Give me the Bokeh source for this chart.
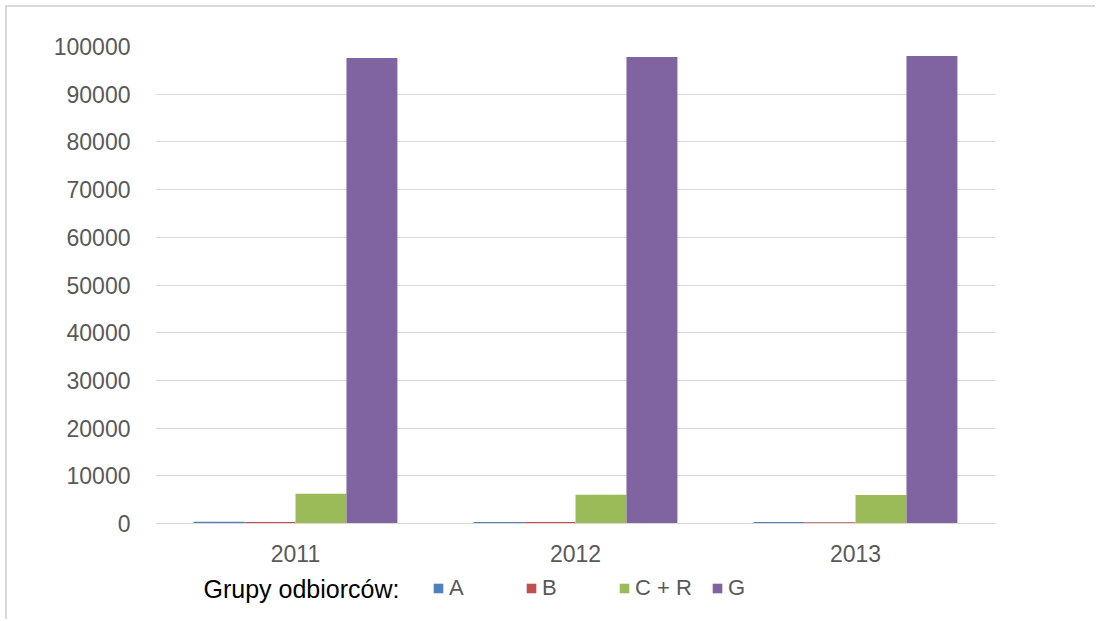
from bokeh.plotting import figure
from bokeh.models import (FactorRange, Range1d, ColumnDataSource, Legend, LegendItem,
                          FixedTicker, NumeralTickFormatter, Label)
from bokeh.transform import dodge
from bokeh.embed import file_html
from bokeh.resources import INLINE

years = ["2011", "2012", "2013"]
series = ["A", "B", "C + R", "G"]
vals_A = [350, 330, 320]
vals_B = [300, 290, 280]
vals_CR = [6250, 6050, 6000]
vals_G = [97600, 97800, 98000]
colors = ["#4f81bd", "#c0504d", "#9bbb59", "#8064a2"]
y_ticks = list(range(0, 100001, 10000))
legend_title = "Grupy odbiorców:"

src = ColumnDataSource(dict(x=years, A=vals_A, B=vals_B, CR=vals_CR, G=vals_G))

# plot area: value axis occupies 477 px; extra px below zero hold the axis labels and legend
AX_H = 477
EXTRA = 96
y_max = 100000
y_min = -EXTRA / AX_H * y_max

p = figure(x_range=FactorRange(factors=years, range_padding=0),
           y_range=Range1d(y_min, y_max),
           frame_width=840, frame_height=AX_H + EXTRA,
           min_border_left=148, min_border_right=100,
           min_border_top=39, min_border_bottom=0,
           output_backend="svg", toolbar_location=None)
p.styles = {"border-top": "2px solid #d9d9d9", "border-left": "2px solid #d9d9d9",
            "margin-left": "5px", "margin-top": "5px"}
p.outline_line_color = None
p.background_fill_color = "white"
p.border_fill_color = "white"

bw = 0.182
offs = [-1.5 * bw, -0.5 * bw, 0.5 * bw, 1.5 * bw]
cols = ["A", "B", "CR", "G"]
renderers = []
for c, o, col in zip(cols, offs, colors):
    r = p.vbar(x=dodge("x", o, range=p.x_range), top=c, width=bw, source=src,
               fill_color=col, line_color=None)
    renderers.append(r)

FONT = "Liberation Sans"
p.xgrid.grid_line_color = None
p.ygrid.grid_line_color = "#d9d9d9"
p.ygrid.grid_line_width = 1
p.yaxis.ticker = FixedTicker(ticks=y_ticks)
p.yaxis.formatter = NumeralTickFormatter(format="0")
p.yaxis.axis_line_color = None
p.yaxis.major_tick_line_color = None
p.yaxis.minor_tick_line_color = None
p.yaxis.major_label_standoff = 19
p.yaxis.major_label_text_font = FONT
p.yaxis.major_label_text_font_size = "23px"
p.yaxis.major_label_text_color = "#595959"

p.xaxis.fixed_location = 0
p.xaxis.axis_line_color = "#d9d9d9"
p.xaxis.axis_line_width = 1
p.xaxis.major_tick_line_color = None
p.xaxis.minor_tick_line_color = None
p.xaxis.major_label_standoff = 15
p.xaxis.major_label_text_font = FONT
p.xaxis.major_label_text_font_size = "23px"
p.xaxis.major_label_text_color = "#595959"

legend = Legend(items=[LegendItem(label=s, renderers=[r]) for s, r in zip(series, renderers)],
                orientation="horizontal", location=(277, 18),
                glyph_width=12, glyph_height=12, label_standoff=5, label_width=75,
                spacing=1, padding=0, margin=0,
                border_line_color=None, background_fill_alpha=0,
                label_text_font=FONT, label_text_font_size="22px",
                label_text_color="#595959")
p.add_layout(legend, "center")

p.add_layout(Label(x=48, y=31, x_units="screen", y_units="screen", text=legend_title,
                   text_font=FONT, text_font_size="25px", text_color="#000000",
                   text_baseline="middle"))

open("out.html", "w").write(file_html(p, INLINE))
